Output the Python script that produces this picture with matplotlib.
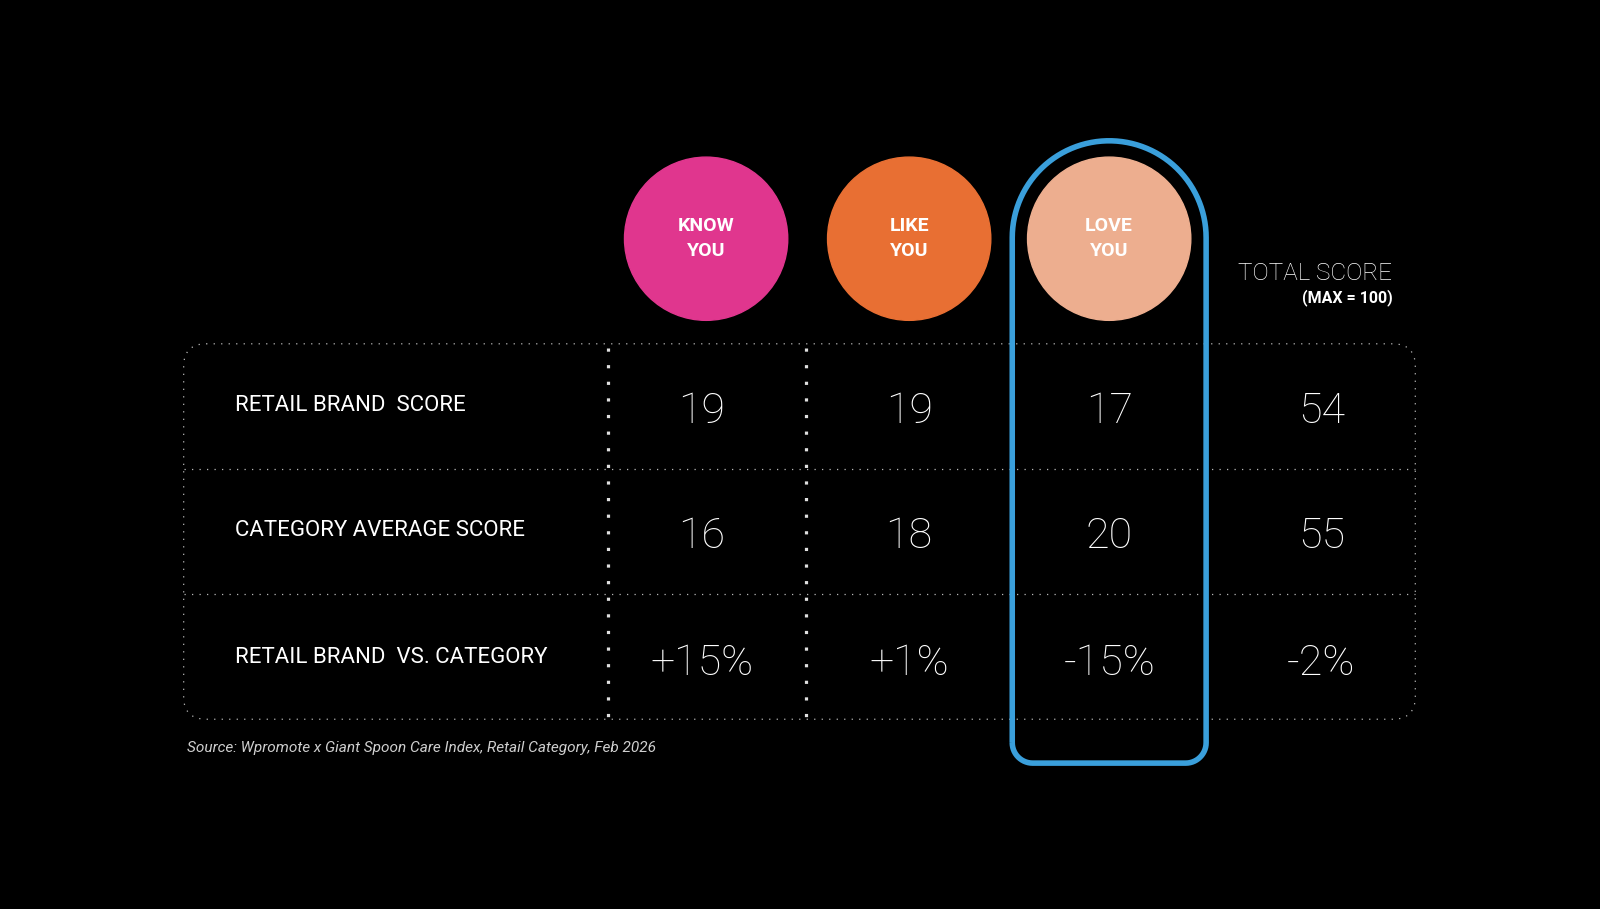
import numpy as np
import matplotlib
matplotlib.use("Agg")
import matplotlib.pyplot as plt
from matplotlib.patches import Circle, FancyBboxPatch, PathPatch
from matplotlib.path import Path

# data
stages = ["KNOW\nYOU", "LIKE\nYOU", "LOVE\nYOU"]
stage_colors = ["#E0368E", "#E86F33", "#EDAE8F"]
row_labels = ["RETAIL BRAND  SCORE", "CATEGORY AVERAGE SCORE", "RETAIL BRAND  VS. CATEGORY"]
retail_score = [19, 19, 17, 54]
category_score = [16, 18, 20, 55]
retail_vs_category = [15, 1, -15, -2]
source = "Source: Wpromote x Giant Spoon Care Index, Retail Category, Feb 2026"

plt.rcParams['font.family'] = ['Roboto', 'DejaVu Sans']

fig = plt.figure(figsize=(16, 9.09), dpi=100, facecolor="black")
ax = fig.add_axes([0, 0, 1, 1])
# work in units of a 1568 x 891 canvas
ax.set_xlim(0, 1568)
ax.set_ylim(891, 0)
ax.axis("off")
ax.set_facecolor("black")

# layout
col_x = [688, 891, 1087, 1295]
circ_x = [692, 891, 1087]
circ_y, circ_r = 234, 80
row_y = [403, 526, 650]
label_x = 230
tbl_l, tbl_r, tbl_t, tbl_b = 180, 1387, 337, 705
row_lines = [460, 582]
sep_x = [596, 790]

fine = dict(color="#b8b8b8", lw=0.9, linestyle=(0, (1, 5)))

# outer dotted frame
frame = FancyBboxPatch((tbl_l, tbl_t), tbl_r - tbl_l, tbl_b - tbl_t,
                       boxstyle="round,pad=0,rounding_size=22",
                       fill=False, edgecolor=fine["color"], lw=fine["lw"],
                       linestyle=fine["linestyle"])
ax.add_patch(frame)
for y in row_lines:
    ax.plot([tbl_l, tbl_r], [y, y], **fine)
for x in sep_x:
    ax.plot([x, x], [tbl_t + 4, tbl_b - 2], color="#e0e0e0", lw=2.3,
            linestyle=(0, (1, 4.2)), solid_capstyle="butt")

# stage circles
for x, name, c in zip(circ_x, stages, stage_colors):
    ax.add_patch(Circle((x, circ_y), circ_r, color=c, zorder=3))
    ax.text(x, circ_y, name, ha="center", va="center", color="white",
            fontsize=14, fontweight="bold", linespacing=1.5, zorder=4)

# blue highlight around LOVE YOU column
bx0, bx1, btop, bbot, rc = 992, 1182, 138, 748, 20
cx = (bx0 + bx1) / 2
R = (bx1 - bx0) / 2
arch_y = btop + R
t = np.linspace(np.pi, 0, 60)
pts = [(bx0, bbot - rc), (bx0, arch_y)]
pts += list(zip(cx + R * np.cos(t), arch_y - R * np.sin(t)))
pts += [(bx1, bbot - rc)]
t2 = np.linspace(0, np.pi / 2, 15)
pts += list(zip(bx1 - rc + rc * np.cos(t2), bbot - rc + rc * np.sin(t2)))
pts += [(bx0 + rc, bbot)]
t3 = np.linspace(np.pi / 2, np.pi, 15)
pts += list(zip(bx0 + rc + rc * np.cos(t3), bbot - rc + rc * np.sin(t3)))
ax.add_patch(PathPatch(Path(pts), fill=False, edgecolor="#3A9FDB", lw=4,
                       zorder=5, joinstyle="round"))

# header for total
ax.text(1364, 268, "TOTAL SCORE", ha="right", va="center", color="white",
        fontsize=17.5, fontweight="light")
ax.text(1365, 292, "(MAX = 100)", ha="right", va="center", color="white",
        fontsize=11.5, fontweight="bold")

# rows
rows = [
    [str(v) for v in retail_score],
    [str(v) for v in category_score],
    [f"{v:+d}%" for v in retail_vs_category],
]
for y, lab, vals in zip(row_y, row_labels, rows):
    ax.text(label_x, y - 6, lab, ha="left", va="center", color="white",
            fontsize=16)
    for x, v in zip(col_x, vals):
        ax.text(x, y, v, ha="center", va="center", color="white",
                fontsize=31, fontweight="light")

ax.text(183, 733, source, ha="left", va="center", color="#cfcfcf",
        fontsize=11.1, style="italic")

fig.savefig("out.png", dpi=100, facecolor="black")
